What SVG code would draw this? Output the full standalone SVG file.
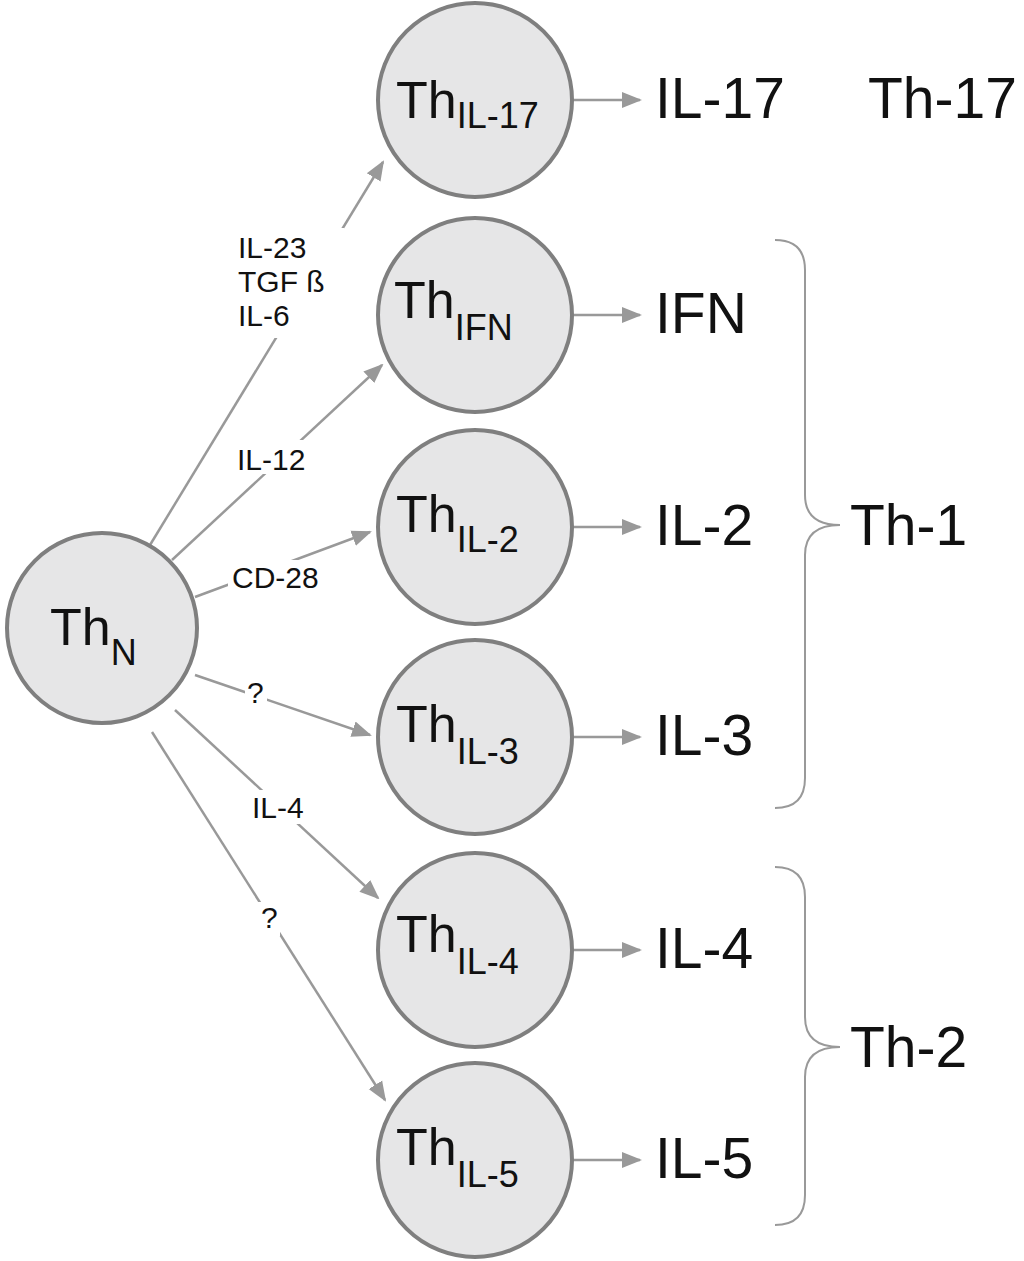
<svg xmlns="http://www.w3.org/2000/svg" width="1024" height="1261" viewBox="0 0 1024 1261">
<style>
.c{fill:#e6e6e7;stroke:#7f7f7f;stroke-width:4}
text{font-family:"Liberation Sans",Arial,sans-serif;fill:#111}
.th{font-size:52px}
.sub{font-size:36px}
.out{font-size:57px}
.lb{font-size:30px}
.ln{stroke:#999;stroke-width:2.5;fill:none}
.br{stroke:#999;stroke-width:2;fill:none}
</style>
<defs>
<marker id="b" viewBox="0 0 10 10" refX="9" refY="5" markerWidth="20" markerHeight="20" markerUnits="userSpaceOnUse" orient="auto"><path d="M0,1L10,5L0,9z" fill="#999"/></marker></defs>
<g id="connectors">
<line class="ln" x1="150" y1="545" x2="383" y2="162" marker-end="url(#b)"/>
<line class="ln" x1="172" y1="560" x2="382" y2="365" marker-end="url(#b)"/>
<line class="ln" x1="195" y1="597" x2="370" y2="532" marker-end="url(#b)"/>
<line class="ln" x1="195" y1="675" x2="370" y2="735" marker-end="url(#b)"/>
<line class="ln" x1="175" y1="710" x2="378" y2="898" marker-end="url(#b)"/>
<line class="ln" x1="152" y1="732" x2="385" y2="1100" marker-end="url(#b)"/>
<line class="ln" x1="573" y1="100" x2="640" y2="100" marker-end="url(#b)"/>
<line class="ln" x1="573" y1="315" x2="640" y2="315" marker-end="url(#b)"/>
<line class="ln" x1="573" y1="527" x2="640" y2="527" marker-end="url(#b)"/>
<line class="ln" x1="573" y1="737" x2="640" y2="737" marker-end="url(#b)"/>
<line class="ln" x1="573" y1="950" x2="640" y2="950" marker-end="url(#b)"/>
<line class="ln" x1="573" y1="1160" x2="640" y2="1160" marker-end="url(#b)"/>
<rect x="232" y="228" width="112" height="110" fill="#fff"/>
<rect x="232" y="440" width="90" height="34" fill="#fff"/>
<rect x="228" y="560" width="110" height="34" fill="#fff"/>
<rect x="245" y="675" width="22" height="34" fill="#fff"/>
<rect x="248" y="790" width="68" height="34" fill="#fff"/>
<rect x="258" y="902" width="22" height="34" fill="#fff"/>
<text class="lb" x="238" y="258">IL-23</text>
<text class="lb" x="238" y="292">TGF ß</text>
<text class="lb" x="238" y="326">IL-6</text>
<text class="lb" x="237" y="470">IL-12</text>
<text class="lb" x="232" y="588">CD-28</text>
<text class="lb" x="247" y="703">?</text>
<text class="lb" x="252" y="818">IL-4</text>
<text class="lb" x="261" y="928">?</text>
</g>
<g id="ThN"><circle class="c" cx="102" cy="628" r="95"/><text class="th" x="50" y="645">Th<tspan class="sub" dy="20">N</tspan></text></g>
<g id="ThIL17"><circle class="c" cx="475" cy="100" r="97"/><text class="th" x="396" y="118">Th<tspan class="sub" dy="10">IL-17</tspan></text></g>
<g id="ThIFN"><circle class="c" cx="475" cy="315" r="97"/><text class="th" x="394" y="318">Th<tspan class="sub" dy="22">IFN</tspan></text></g>
<g id="ThIL2"><circle class="c" cx="475" cy="527" r="97"/><text class="th" x="396" y="532">Th<tspan class="sub" dy="20">IL-2</tspan></text></g>
<g id="ThIL3"><circle class="c" cx="475" cy="737" r="97"/><text class="th" x="396" y="742">Th<tspan class="sub" dy="22">IL-3</tspan></text></g>
<g id="ThIL4"><circle class="c" cx="475" cy="950" r="97"/><text class="th" x="396" y="952">Th<tspan class="sub" dy="22">IL-4</tspan></text></g>
<g id="ThIL5"><circle class="c" cx="475" cy="1160" r="97"/><text class="th" x="396" y="1165">Th<tspan class="sub" dy="22">IL-5</tspan></text></g>
<g id="outputs">
<text class="out" x="655" y="118">IL-17</text>
<text class="out" x="655" y="333">IFN</text>
<text class="out" x="655" y="545">IL-2</text>
<text class="out" x="655" y="755">IL-3</text>
<text class="out" x="655" y="968">IL-4</text>
<text class="out" x="655" y="1178">IL-5</text>
<text class="out" x="868" y="118">Th-17</text>
<text class="out" x="850" y="545">Th-1</text>
<text class="out" x="850" y="1067">Th-2</text>
</g>
<g id="braces">
<path class="br" d="M775,240 Q805,240 805,270 L805,495 Q805,525 840,525 Q805,525 805,555 L805,778 Q805,808 775,808"/>
<path class="br" d="M775,867 Q805,867 805,897 L805,1017 Q805,1047 840,1047 Q805,1047 805,1077 L805,1195 Q805,1225 775,1225"/>
</g>
</svg>
